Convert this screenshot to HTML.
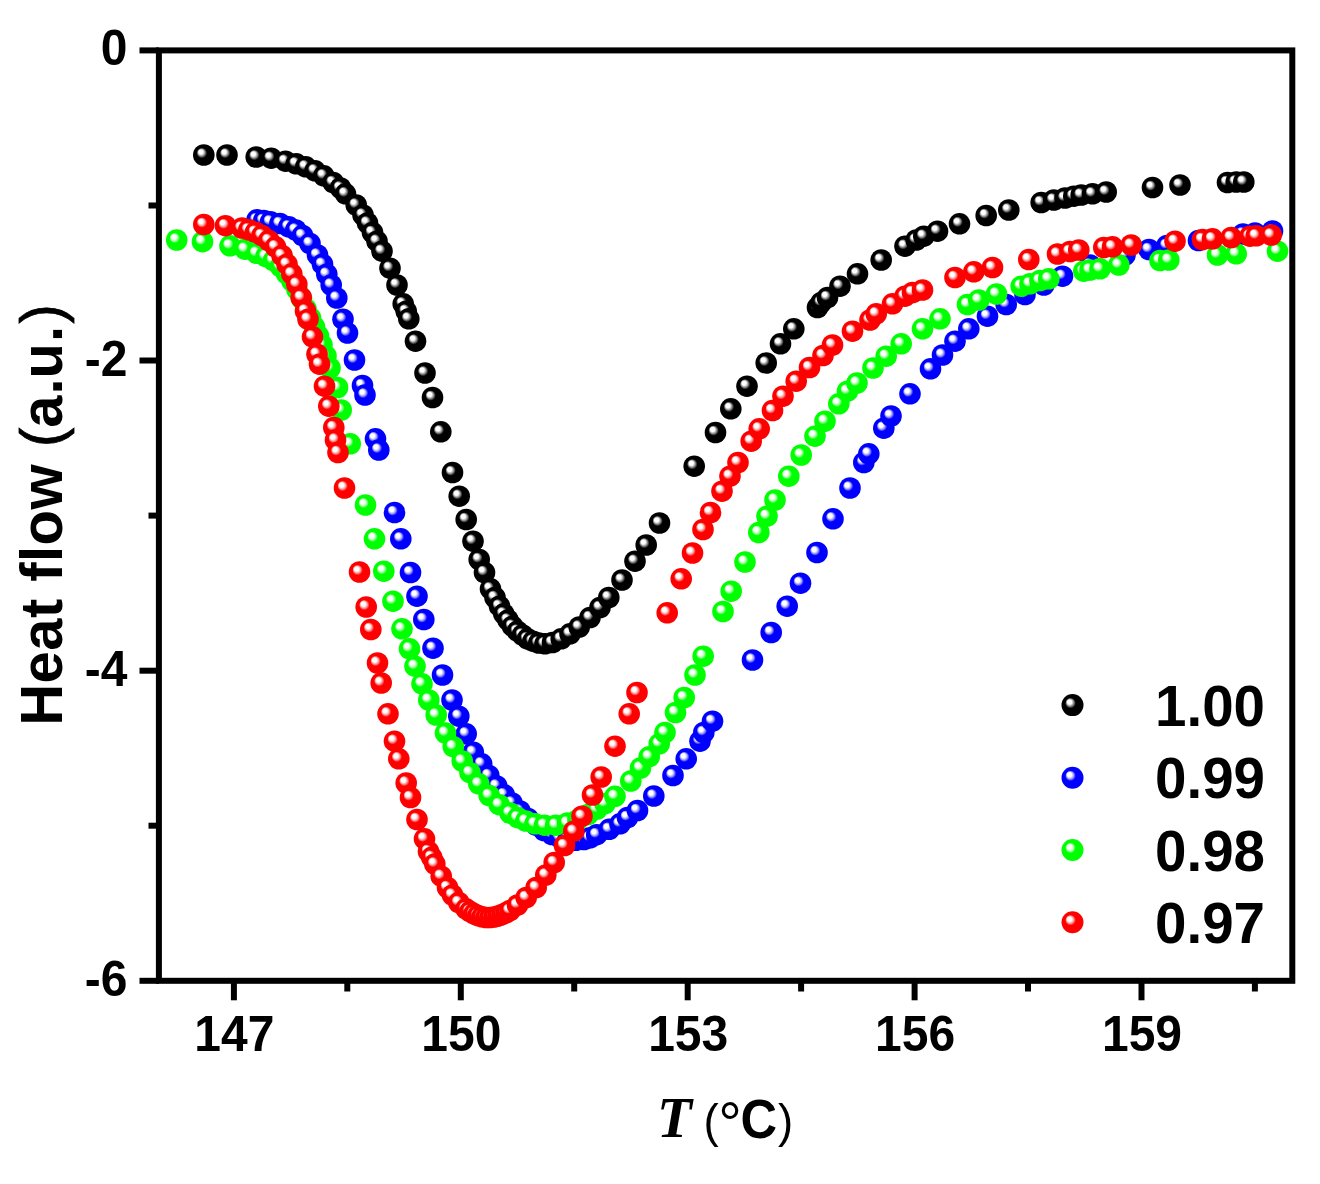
<!DOCTYPE html>
<html lang="en"><head><meta charset="utf-8"><title>Heat flow vs T</title>
<style>html,body{margin:0;padding:0;background:#fff}svg{display:block;filter:blur(0.7px)}text{font-family:"Liberation Sans",sans-serif;font-weight:bold;fill:#000}.ser{font-family:"Liberation Serif",serif;font-style:italic;font-weight:bold}.reg{font-weight:normal}.par{font-weight:normal;stroke:#000;stroke-width:0.8px}</style></head><body>
<svg width="1320" height="1184" viewBox="0 0 1320 1184">
<defs>
<radialGradient id="gk" cx="0.5" cy="0.5" r="0.5" fx="0.33" fy="0.325"><stop offset="0" stop-color="#ffffff"/><stop offset="0.2" stop-color="#ffffff"/><stop offset="0.34" stop-color="#8a8a8a"/><stop offset="0.48" stop-color="#000000"/><stop offset="1" stop-color="#000000"/></radialGradient>
<radialGradient id="gb" cx="0.5" cy="0.5" r="0.5" fx="0.33" fy="0.325"><stop offset="0" stop-color="#ffffff"/><stop offset="0.2" stop-color="#ffffff"/><stop offset="0.34" stop-color="#9a9aff"/><stop offset="0.48" stop-color="#0000ff"/><stop offset="1" stop-color="#0000ff"/></radialGradient>
<radialGradient id="gg" cx="0.5" cy="0.5" r="0.5" fx="0.33" fy="0.325"><stop offset="0" stop-color="#ffffff"/><stop offset="0.2" stop-color="#ffffff"/><stop offset="0.34" stop-color="#a0ffa0"/><stop offset="0.48" stop-color="#00ff00"/><stop offset="1" stop-color="#00ff00"/></radialGradient>
<radialGradient id="gr" cx="0.5" cy="0.5" r="0.5" fx="0.33" fy="0.325"><stop offset="0" stop-color="#ffffff"/><stop offset="0.2" stop-color="#ffffff"/><stop offset="0.34" stop-color="#ff9a9a"/><stop offset="0.48" stop-color="#ff0000"/><stop offset="1" stop-color="#ff0000"/></radialGradient>
</defs>
<rect width="1320" height="1184" fill="#fff"/>
<g id="plot">
<g fill="url(#gk)">
<circle cx="203.8" cy="155.0" r="10.8"/><circle cx="227.0" cy="155.0" r="10.8"/><circle cx="256.2" cy="157.0" r="10.8"/><circle cx="271.2" cy="158.2" r="10.8"/><circle cx="285.5" cy="161.2" r="10.8"/><circle cx="296.2" cy="163.8" r="10.8"/><circle cx="305.8" cy="166.8" r="10.8"/><circle cx="315.0" cy="170.8" r="10.8"/><circle cx="323.8" cy="175.8" r="10.8"/><circle cx="333.2" cy="182.5" r="10.8"/><circle cx="340.5" cy="188.0" r="10.8"/><circle cx="345.5" cy="193.8" r="10.8"/><circle cx="356.2" cy="205.0" r="10.8"/><circle cx="363.0" cy="215.0" r="10.8"/><circle cx="367.5" cy="223.0" r="10.8"/><circle cx="372.5" cy="232.5" r="10.8"/><circle cx="377.0" cy="241.2" r="10.8"/><circle cx="382.0" cy="251.2" r="10.8"/><circle cx="390.0" cy="268.2" r="10.8"/><circle cx="397.0" cy="285.0" r="10.8"/><circle cx="403.2" cy="303.8" r="10.8"/><circle cx="406.2" cy="311.2" r="10.8"/><circle cx="408.8" cy="318.8" r="10.8"/><circle cx="415.5" cy="341.2" r="10.8"/><circle cx="425.0" cy="373.0" r="10.8"/><circle cx="432.5" cy="397.5" r="10.8"/><circle cx="440.8" cy="431.8" r="10.8"/><circle cx="452.5" cy="472.5" r="10.8"/><circle cx="459.2" cy="496.2" r="10.8"/><circle cx="466.2" cy="519.5" r="10.8"/><circle cx="473.0" cy="541.2" r="10.8"/><circle cx="479.2" cy="559.5" r="10.8"/><circle cx="484.5" cy="572.5" r="10.8"/><circle cx="490.5" cy="588.8" r="10.8"/><circle cx="495.0" cy="597.5" r="10.8"/><circle cx="499.5" cy="606.2" r="10.8"/><circle cx="503.8" cy="613.8" r="10.8"/><circle cx="508.0" cy="620.0" r="10.8"/><circle cx="512.5" cy="626.2" r="10.8"/><circle cx="517.5" cy="631.2" r="10.8"/><circle cx="522.5" cy="635.0" r="10.8"/><circle cx="527.5" cy="638.8" r="10.8"/><circle cx="533.0" cy="641.2" r="10.8"/><circle cx="538.8" cy="643.0" r="10.8"/><circle cx="545.0" cy="643.8" r="10.8"/><circle cx="552.5" cy="642.5" r="10.8"/><circle cx="561.2" cy="638.8" r="10.8"/><circle cx="570.0" cy="633.8" r="10.8"/><circle cx="579.2" cy="627.0" r="10.8"/><circle cx="590.0" cy="617.5" r="10.8"/><circle cx="600.0" cy="607.5" r="10.8"/><circle cx="608.8" cy="597.5" r="10.8"/><circle cx="622.0" cy="580.0" r="10.8"/><circle cx="635.0" cy="561.2" r="10.8"/><circle cx="646.2" cy="545.0" r="10.8"/><circle cx="659.5" cy="523.0" r="10.8"/><circle cx="694.2" cy="466.2" r="10.8"/><circle cx="715.5" cy="432.5" r="10.8"/><circle cx="730.8" cy="408.8" r="10.8"/><circle cx="747.0" cy="386.2" r="10.8"/><circle cx="766.2" cy="363.0" r="10.8"/><circle cx="780.5" cy="343.8" r="10.8"/><circle cx="793.8" cy="328.8" r="10.8"/><circle cx="817.5" cy="307.5" r="10.8"/><circle cx="821.2" cy="302.5" r="10.8"/><circle cx="827.5" cy="297.5" r="10.8"/><circle cx="840.0" cy="286.2" r="10.8"/><circle cx="857.5" cy="273.8" r="10.8"/><circle cx="881.2" cy="260.0" r="10.8"/><circle cx="905.0" cy="246.2" r="10.8"/><circle cx="916.2" cy="240.0" r="10.8"/><circle cx="923.8" cy="236.2" r="10.8"/><circle cx="937.5" cy="231.2" r="10.8"/><circle cx="959.5" cy="223.8" r="10.8"/><circle cx="986.2" cy="215.5" r="10.8"/><circle cx="1008.8" cy="210.0" r="10.8"/><circle cx="1041.2" cy="202.5" r="10.8"/><circle cx="1053.8" cy="200.0" r="10.8"/><circle cx="1065.0" cy="198.0" r="10.8"/><circle cx="1073.8" cy="196.2" r="10.8"/><circle cx="1081.2" cy="195.0" r="10.8"/><circle cx="1092.5" cy="193.8" r="10.8"/><circle cx="1106.2" cy="192.0" r="10.8"/><circle cx="1152.5" cy="187.5" r="10.8"/><circle cx="1180.0" cy="185.0" r="10.8"/><circle cx="1227.5" cy="182.5" r="10.8"/><circle cx="1236.2" cy="182.0" r="10.8"/><circle cx="1243.8" cy="182.0" r="10.8"/>
</g>
<g fill="url(#gb)">
<circle cx="257.0" cy="219.8" r="10.8"/><circle cx="263.8" cy="220.5" r="10.8"/><circle cx="270.5" cy="221.8" r="10.8"/><circle cx="280.0" cy="223.5" r="10.8"/><circle cx="288.8" cy="226.8" r="10.8"/><circle cx="295.8" cy="230.0" r="10.8"/><circle cx="302.5" cy="235.5" r="10.8"/><circle cx="310.0" cy="243.5" r="10.8"/><circle cx="317.5" cy="255.0" r="10.8"/><circle cx="322.5" cy="264.2" r="10.8"/><circle cx="326.8" cy="274.2" r="10.8"/><circle cx="331.2" cy="285.0" r="10.8"/><circle cx="336.8" cy="298.0" r="10.8"/><circle cx="343.0" cy="319.2" r="10.8"/><circle cx="347.5" cy="333.0" r="10.8"/><circle cx="354.5" cy="360.0" r="10.8"/><circle cx="362.5" cy="385.5" r="10.8"/><circle cx="365.0" cy="395.0" r="10.8"/><circle cx="375.5" cy="438.8" r="10.8"/><circle cx="378.8" cy="450.0" r="10.8"/><circle cx="394.5" cy="512.5" r="10.8"/><circle cx="400.8" cy="538.8" r="10.8"/><circle cx="410.5" cy="572.5" r="10.8"/><circle cx="417.0" cy="596.2" r="10.8"/><circle cx="423.8" cy="619.5" r="10.8"/><circle cx="433.0" cy="648.2" r="10.8"/><circle cx="442.5" cy="675.0" r="10.8"/><circle cx="452.0" cy="700.0" r="10.8"/><circle cx="458.8" cy="716.2" r="10.8"/><circle cx="466.2" cy="733.8" r="10.8"/><circle cx="473.3" cy="752.2" r="10.8"/><circle cx="481.7" cy="763.8" r="10.8"/><circle cx="488.8" cy="775.5" r="10.8"/><circle cx="496.7" cy="786.0" r="10.8"/><circle cx="504.2" cy="794.7" r="10.8"/><circle cx="512.0" cy="803.0" r="10.8"/><circle cx="520.0" cy="811.0" r="10.8"/><circle cx="528.0" cy="818.5" r="10.8"/><circle cx="536.0" cy="825.0" r="10.8"/><circle cx="544.0" cy="830.5" r="10.8"/><circle cx="552.0" cy="834.5" r="10.8"/><circle cx="560.0" cy="837.5" r="10.8"/><circle cx="568.0" cy="839.5" r="10.8"/><circle cx="576.0" cy="840.3" r="10.8"/><circle cx="584.0" cy="839.5" r="10.8"/><circle cx="590.0" cy="837.8" r="10.8"/><circle cx="596.7" cy="834.7" r="10.8"/><circle cx="609.2" cy="829.3" r="10.8"/><circle cx="620.0" cy="823.8" r="10.8"/><circle cx="627.5" cy="817.5" r="10.8"/><circle cx="637.5" cy="810.5" r="10.8"/><circle cx="653.8" cy="796.0" r="10.8"/><circle cx="673.0" cy="775.5" r="10.8"/><circle cx="686.2" cy="758.8" r="10.8"/><circle cx="700.0" cy="741.2" r="10.8"/><circle cx="703.8" cy="732.5" r="10.8"/><circle cx="712.5" cy="721.2" r="10.8"/><circle cx="752.5" cy="660.0" r="10.8"/><circle cx="771.2" cy="632.5" r="10.8"/><circle cx="787.2" cy="606.2" r="10.8"/><circle cx="800.5" cy="583.2" r="10.8"/><circle cx="817.0" cy="552.5" r="10.8"/><circle cx="833.0" cy="518.8" r="10.8"/><circle cx="850.0" cy="488.0" r="10.8"/><circle cx="863.8" cy="462.5" r="10.8"/><circle cx="868.8" cy="453.8" r="10.8"/><circle cx="883.8" cy="428.2" r="10.8"/><circle cx="891.0" cy="416.0" r="10.8"/><circle cx="910.0" cy="393.8" r="10.8"/><circle cx="930.5" cy="368.8" r="10.8"/><circle cx="942.5" cy="355.0" r="10.8"/><circle cx="955.0" cy="341.2" r="10.8"/><circle cx="968.8" cy="328.8" r="10.8"/><circle cx="987.5" cy="316.2" r="10.8"/><circle cx="1006.2" cy="304.5" r="10.8"/><circle cx="1025.0" cy="294.5" r="10.8"/><circle cx="1043.8" cy="285.0" r="10.8"/><circle cx="1062.5" cy="276.2" r="10.8"/><circle cx="1090.0" cy="265.0" r="10.8"/><circle cx="1125.0" cy="255.0" r="10.8"/><circle cx="1149.0" cy="249.5" r="10.8"/><circle cx="1167.0" cy="245.5" r="10.8"/><circle cx="1198.5" cy="240.5" r="10.8"/><circle cx="1243.0" cy="234.0" r="10.8"/><circle cx="1255.0" cy="233.0" r="10.8"/><circle cx="1272.5" cy="231.0" r="10.8"/>
</g>
<g fill="url(#gg)">
<circle cx="176.7" cy="240.0" r="10.8"/><circle cx="202.5" cy="241.7" r="10.8"/><circle cx="230.0" cy="245.8" r="10.8"/><circle cx="245.0" cy="249.2" r="10.8"/><circle cx="256.7" cy="253.3" r="10.8"/><circle cx="266.0" cy="256.5" r="10.8"/><circle cx="273.5" cy="260.5" r="10.8"/><circle cx="280.5" cy="266.5" r="10.8"/><circle cx="286.5" cy="273.5" r="10.8"/><circle cx="292.0" cy="281.0" r="10.8"/><circle cx="297.0" cy="289.5" r="10.8"/><circle cx="301.5" cy="298.5" r="10.8"/><circle cx="306.0" cy="309.0" r="10.8"/><circle cx="310.5" cy="318.0" r="10.8"/><circle cx="314.5" cy="327.0" r="10.8"/><circle cx="318.5" cy="336.0" r="10.8"/><circle cx="322.0" cy="345.0" r="10.8"/><circle cx="326.0" cy="356.0" r="10.8"/><circle cx="330.0" cy="368.0" r="10.8"/><circle cx="337.5" cy="387.5" r="10.8"/><circle cx="341.2" cy="410.0" r="10.8"/><circle cx="350.2" cy="443.8" r="10.8"/><circle cx="365.5" cy="505.0" r="10.8"/><circle cx="374.5" cy="538.8" r="10.8"/><circle cx="383.8" cy="571.2" r="10.8"/><circle cx="393.0" cy="601.2" r="10.8"/><circle cx="402.0" cy="628.8" r="10.8"/><circle cx="409.5" cy="648.8" r="10.8"/><circle cx="415.0" cy="666.2" r="10.8"/><circle cx="422.0" cy="683.8" r="10.8"/><circle cx="428.8" cy="700.0" r="10.8"/><circle cx="436.2" cy="715.0" r="10.8"/><circle cx="445.5" cy="733.0" r="10.8"/><circle cx="453.3" cy="746.7" r="10.8"/><circle cx="462.2" cy="761.0" r="10.8"/><circle cx="470.0" cy="772.7" r="10.8"/><circle cx="478.8" cy="783.8" r="10.8"/><circle cx="489.2" cy="795.5" r="10.8"/><circle cx="499.2" cy="804.7" r="10.8"/><circle cx="510.0" cy="813.0" r="10.8"/><circle cx="517.8" cy="817.7" r="10.8"/><circle cx="525.8" cy="821.0" r="10.8"/><circle cx="535.0" cy="823.8" r="10.8"/><circle cx="544.5" cy="825.2" r="10.8"/><circle cx="555.8" cy="825.2" r="10.8"/><circle cx="567.5" cy="823.0" r="10.8"/><circle cx="578.0" cy="819.5" r="10.8"/><circle cx="588.0" cy="814.5" r="10.8"/><circle cx="597.0" cy="809.0" r="10.8"/><circle cx="605.0" cy="803.5" r="10.8"/><circle cx="615.0" cy="796.3" r="10.8"/><circle cx="630.8" cy="781.0" r="10.8"/><circle cx="640.5" cy="768.0" r="10.8"/><circle cx="649.2" cy="756.7" r="10.8"/><circle cx="659.2" cy="743.8" r="10.8"/><circle cx="665.0" cy="732.5" r="10.8"/><circle cx="675.5" cy="712.5" r="10.8"/><circle cx="684.2" cy="697.5" r="10.8"/><circle cx="695.0" cy="675.0" r="10.8"/><circle cx="703.2" cy="656.2" r="10.8"/><circle cx="723.0" cy="611.5" r="10.8"/><circle cx="731.2" cy="591.2" r="10.8"/><circle cx="745.0" cy="562.0" r="10.8"/><circle cx="758.8" cy="532.5" r="10.8"/><circle cx="767.0" cy="516.2" r="10.8"/><circle cx="775.0" cy="500.0" r="10.8"/><circle cx="788.8" cy="476.2" r="10.8"/><circle cx="801.2" cy="455.0" r="10.8"/><circle cx="815.0" cy="436.2" r="10.8"/><circle cx="825.0" cy="421.2" r="10.8"/><circle cx="838.8" cy="403.8" r="10.8"/><circle cx="847.5" cy="391.2" r="10.8"/><circle cx="857.0" cy="383.0" r="10.8"/><circle cx="873.0" cy="368.0" r="10.8"/><circle cx="886.2" cy="356.2" r="10.8"/><circle cx="901.2" cy="343.8" r="10.8"/><circle cx="922.5" cy="328.8" r="10.8"/><circle cx="940.0" cy="318.8" r="10.8"/><circle cx="967.5" cy="304.5" r="10.8"/><circle cx="978.8" cy="300.0" r="10.8"/><circle cx="996.5" cy="294.0" r="10.8"/><circle cx="1021.2" cy="286.2" r="10.8"/><circle cx="1030.0" cy="283.8" r="10.8"/><circle cx="1040.0" cy="280.5" r="10.8"/><circle cx="1048.8" cy="278.8" r="10.8"/><circle cx="1083.8" cy="271.2" r="10.8"/><circle cx="1090.0" cy="270.0" r="10.8"/><circle cx="1100.0" cy="268.8" r="10.8"/><circle cx="1118.8" cy="265.0" r="10.8"/><circle cx="1160.0" cy="260.5" r="10.8"/><circle cx="1168.8" cy="260.0" r="10.8"/><circle cx="1217.5" cy="255.0" r="10.8"/><circle cx="1236.2" cy="253.8" r="10.8"/><circle cx="1277.5" cy="251.2" r="10.8"/>
</g>
<g fill="url(#gr)">
<circle cx="203.8" cy="224.5" r="10.8"/><circle cx="225.5" cy="225.7" r="10.8"/><circle cx="242.0" cy="228.0" r="10.8"/><circle cx="248.8" cy="229.8" r="10.8"/><circle cx="255.5" cy="232.2" r="10.8"/><circle cx="262.0" cy="235.5" r="10.8"/><circle cx="268.8" cy="240.5" r="10.8"/><circle cx="275.5" cy="246.8" r="10.8"/><circle cx="282.0" cy="255.5" r="10.8"/><circle cx="287.0" cy="264.2" r="10.8"/><circle cx="291.8" cy="273.8" r="10.8"/><circle cx="296.8" cy="284.2" r="10.8"/><circle cx="301.2" cy="297.5" r="10.8"/><circle cx="305.5" cy="311.0" r="10.8"/><circle cx="308.0" cy="319.2" r="10.8"/><circle cx="312.5" cy="336.8" r="10.8"/><circle cx="317.0" cy="354.2" r="10.8"/><circle cx="319.5" cy="364.2" r="10.8"/><circle cx="324.5" cy="386.2" r="10.8"/><circle cx="328.8" cy="406.2" r="10.8"/><circle cx="333.8" cy="427.5" r="10.8"/><circle cx="335.5" cy="440.0" r="10.8"/><circle cx="338.0" cy="452.5" r="10.8"/><circle cx="344.5" cy="488.0" r="10.8"/><circle cx="359.5" cy="572.0" r="10.8"/><circle cx="366.2" cy="607.0" r="10.8"/><circle cx="370.8" cy="629.5" r="10.8"/><circle cx="377.5" cy="663.0" r="10.8"/><circle cx="381.2" cy="683.0" r="10.8"/><circle cx="388.0" cy="713.8" r="10.8"/><circle cx="394.5" cy="741.2" r="10.8"/><circle cx="398.8" cy="758.8" r="10.8"/><circle cx="406.2" cy="783.0" r="10.8"/><circle cx="410.5" cy="797.5" r="10.8"/><circle cx="417.0" cy="819.5" r="10.8"/><circle cx="424.5" cy="838.8" r="10.8"/><circle cx="428.5" cy="851.5" r="10.8"/><circle cx="431.7" cy="857.3" r="10.8"/><circle cx="434.8" cy="864.0" r="10.8"/><circle cx="441.2" cy="876.2" r="10.8"/><circle cx="447.5" cy="887.5" r="10.8"/><circle cx="452.5" cy="895.0" r="10.8"/><circle cx="458.8" cy="902.5" r="10.8"/><circle cx="466.0" cy="908.8" r="10.8"/><circle cx="470.0" cy="911.5" r="10.8"/><circle cx="474.0" cy="913.8" r="10.8"/><circle cx="478.0" cy="915.5" r="10.8"/><circle cx="482.0" cy="916.8" r="10.8"/><circle cx="486.0" cy="917.5" r="10.8"/><circle cx="490.0" cy="917.5" r="10.8"/><circle cx="494.0" cy="917.0" r="10.8"/><circle cx="498.0" cy="916.0" r="10.8"/><circle cx="502.0" cy="914.5" r="10.8"/><circle cx="506.0" cy="912.8" r="10.8"/><circle cx="510.0" cy="910.5" r="10.8"/><circle cx="517.5" cy="905.0" r="10.8"/><circle cx="526.2" cy="897.5" r="10.8"/><circle cx="536.2" cy="887.5" r="10.8"/><circle cx="545.8" cy="875.0" r="10.8"/><circle cx="554.2" cy="862.5" r="10.8"/><circle cx="564.5" cy="845.5" r="10.8"/><circle cx="573.8" cy="831.2" r="10.8"/><circle cx="582.0" cy="816.2" r="10.8"/><circle cx="592.5" cy="795.0" r="10.8"/><circle cx="601.2" cy="777.0" r="10.8"/><circle cx="615.0" cy="746.2" r="10.8"/><circle cx="629.2" cy="713.8" r="10.8"/><circle cx="637.0" cy="692.5" r="10.8"/><circle cx="667.2" cy="612.8" r="10.8"/><circle cx="681.2" cy="578.8" r="10.8"/><circle cx="692.5" cy="553.0" r="10.8"/><circle cx="703.0" cy="529.5" r="10.8"/><circle cx="710.5" cy="512.5" r="10.8"/><circle cx="722.0" cy="491.2" r="10.8"/><circle cx="730.0" cy="476.2" r="10.8"/><circle cx="738.0" cy="462.5" r="10.8"/><circle cx="751.2" cy="441.2" r="10.8"/><circle cx="759.2" cy="428.8" r="10.8"/><circle cx="772.5" cy="410.5" r="10.8"/><circle cx="783.0" cy="396.2" r="10.8"/><circle cx="796.2" cy="381.2" r="10.8"/><circle cx="809.5" cy="367.5" r="10.8"/><circle cx="823.0" cy="355.5" r="10.8"/><circle cx="832.5" cy="345.0" r="10.8"/><circle cx="852.5" cy="331.2" r="10.8"/><circle cx="870.0" cy="320.0" r="10.8"/><circle cx="876.2" cy="313.8" r="10.8"/><circle cx="892.5" cy="303.8" r="10.8"/><circle cx="905.0" cy="296.2" r="10.8"/><circle cx="912.5" cy="292.5" r="10.8"/><circle cx="922.5" cy="290.0" r="10.8"/><circle cx="955.0" cy="277.5" r="10.8"/><circle cx="973.8" cy="271.8" r="10.8"/><circle cx="992.5" cy="267.5" r="10.8"/><circle cx="1028.8" cy="259.5" r="10.8"/><circle cx="1057.5" cy="254.0" r="10.8"/><circle cx="1070.0" cy="251.5" r="10.8"/><circle cx="1078.8" cy="250.0" r="10.8"/><circle cx="1103.8" cy="247.5" r="10.8"/><circle cx="1112.5" cy="246.8" r="10.8"/><circle cx="1131.2" cy="245.0" r="10.8"/><circle cx="1175.0" cy="241.2" r="10.8"/><circle cx="1202.5" cy="239.5" r="10.8"/><circle cx="1212.5" cy="238.8" r="10.8"/><circle cx="1231.2" cy="237.5" r="10.8"/><circle cx="1250.0" cy="236.2" r="10.8"/><circle cx="1256.2" cy="235.8" r="10.8"/><circle cx="1271.2" cy="235.0" r="10.8"/>
</g>
</g>
<circle cx="1072.5" cy="705.1" r="11" fill="url(#gk)"/>
<text transform="translate(1265,725.6999999999999) scale(1,1.03)" font-size="56.5" text-anchor="end">1.00</text>
<circle cx="1072.5" cy="777.8" r="11" fill="url(#gb)"/>
<text transform="translate(1265,797.9) scale(1,1.03)" font-size="56.5" text-anchor="end">0.99</text>
<circle cx="1072.5" cy="850.0" r="11" fill="url(#gg)"/>
<text transform="translate(1265,870.5) scale(1,1.03)" font-size="56.5" text-anchor="end">0.98</text>
<circle cx="1072.5" cy="922.2" r="11" fill="url(#gr)"/>
<text transform="translate(1265,942.9) scale(1,1.03)" font-size="56.5" text-anchor="end">0.97</text>
<g stroke="#000" stroke-width="6.0" fill="none" stroke-linecap="butt">
<rect x="158.9" y="50.4" width="1133.4" height="930.4"/>
<line x1="139.5" x2="158.9" y1="50.4" y2="50.4"/>
<line x1="139.5" x2="158.9" y1="360.5" y2="360.5"/>
<line x1="139.5" x2="158.9" y1="670.7" y2="670.7"/>
<line x1="139.5" x2="158.9" y1="980.8" y2="980.8"/>
<line x1="148.5" x2="158.9" y1="205.5" y2="205.5"/>
<line x1="148.5" x2="158.9" y1="515.6" y2="515.6"/>
<line x1="148.5" x2="158.9" y1="825.7" y2="825.7"/>
<line x1="233.9" x2="233.9" y1="980.8" y2="1000.3"/>
<line x1="460.8" x2="460.8" y1="980.8" y2="1000.3"/>
<line x1="687.7" x2="687.7" y1="980.8" y2="1000.3"/>
<line x1="914.6" x2="914.6" y1="980.8" y2="1000.3"/>
<line x1="1141.5" x2="1141.5" y1="980.8" y2="1000.3"/>
<line x1="347.3" x2="347.3" y1="980.8" y2="991.5"/>
<line x1="574.2" x2="574.2" y1="980.8" y2="991.5"/>
<line x1="801.1" x2="801.1" y1="980.8" y2="991.5"/>
<line x1="1028.0" x2="1028.0" y1="980.8" y2="991.5"/>
<line x1="1254.9" x2="1254.9" y1="980.8" y2="991.5"/>
</g>
<text transform="translate(127.5,65.4) scale(1,1.045)" font-size="48" text-anchor="end">0</text>
<text transform="translate(127.5,375.5) scale(1,1.045)" font-size="48" text-anchor="end">-2</text>
<text transform="translate(127.5,685.7) scale(1,1.045)" font-size="48" text-anchor="end">-4</text>
<text transform="translate(127.5,995.8) scale(1,1.045)" font-size="48" text-anchor="end">-6</text>
<text transform="translate(234.4,1051.0) scale(1,1.045)" font-size="48" text-anchor="middle">147</text>
<text transform="translate(461.3,1051.0) scale(1,1.045)" font-size="48" text-anchor="middle">150</text>
<text transform="translate(688.2,1051.0) scale(1,1.045)" font-size="48" text-anchor="middle">153</text>
<text transform="translate(915.1,1051.0) scale(1,1.045)" font-size="48" text-anchor="middle">156</text>
<text transform="translate(1142.0,1051.0) scale(1,1.045)" font-size="48" text-anchor="middle">159</text>
<text transform="translate(61.6,0) rotate(-90) scale(1,1.035)" font-size="58"><tspan x="-725.8" letter-spacing="0.45">Heat flow </tspan><tspan class="par" x="-447.0">(</tspan><tspan x="-427.8">a</tspan><tspan x="-394.6">.</tspan><tspan x="-378.6">u</tspan><tspan x="-342.1">.</tspan><tspan class="par" x="-323.4">)</tspan></text>
<text class="ser" x="657" y="1137.4" font-size="57">T</text>
<text class="reg" x="703.5" y="1137.3" font-size="45.7">(</text>
<text class="reg" x="718.3" y="1143.7" font-size="59">°</text>
<text transform="translate(740.6,1137.5) scale(0.955,1.05)" font-size="53">C</text>
<text class="reg" x="778" y="1137.3" font-size="45.7">)</text>
</svg></body></html>
